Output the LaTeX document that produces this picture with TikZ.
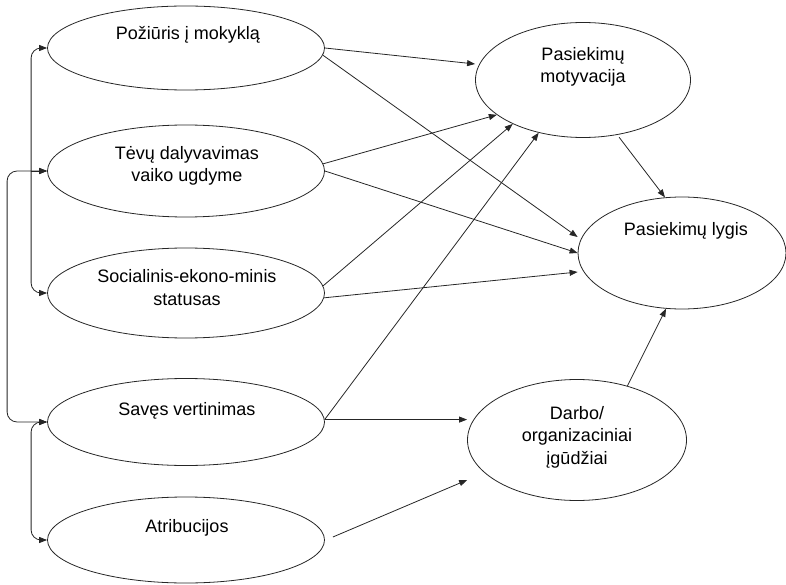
\documentclass[tikz,border=0pt]{standalone}
\usepackage{fontspec}
\setmainfont{Liberation Sans}
\usetikzlibrary{shapes.geometric,arrows.meta,calc}
\begin{document}
\begin{tikzpicture}[x=1pt,y=-1pt,
  oval/.style={draw=black!85, line width=0.8pt, ellipse, inner sep=0pt},
  lbl/.style={font=\fontsize{18}{22.5}\selectfont, align=center, anchor=base, inner sep=0pt},
  arr/.style={draw=black!85, line width=0.8pt, -{Triangle[length=8pt,width=6pt]}},
  barr/.style={draw=black!85, line width=0.8pt, {Triangle[length=8pt,width=6pt]}-{Triangle[length=8pt,width=6pt]}, rounded corners=10pt}]
\useasboundingbox (0,0) rectangle (786,585);
% left ellipses
\node[oval, minimum width=277pt, minimum height=84pt] (e1) at (186,48) {};
\node[oval, minimum width=277pt, minimum height=92pt] (e2) at (186,171) {};
\node[oval, minimum width=277pt, minimum height=90pt] (e3) at (186,293) {};
\node[oval, minimum width=277pt, minimum height=87pt] (e4) at (186,422) {};
\node[oval, minimum width=277pt, minimum height=86pt] (e5) at (186,540) {};
% right ellipses
\node[oval, minimum width=215pt, minimum height=115pt] (M) at (583,80) {};
\node[oval, minimum width=208pt, minimum height=112pt] (L) at (682,253) {};
\node[oval, minimum width=219pt, minimum height=121pt] (D) at (577,440) {};
% labels (base anchor = baseline of last line)
\node[lbl] (t1) at ($(e1.center)+(2,-8)$) {Požiūris į mokyklą};
\node[lbl] (t2) at ($(e2.center)+(1,11)$) {Tėvų dalyvavimas\\vaiko ugdyme};
\node[lbl] (t3) at ($(e3.center)+(1,12)$) {Socialinis-ekono-minis\\statusas};
\node[lbl] (t4) at ($(e4.center)+(1,-7)$) {Savęs vertinimas};
\node[lbl] (t5) at ($(e5.center)+(1,-8)$) {Atribucijos};
\node[lbl] (tM) at ($(M.center)+(0,3)$) {Pasiekimų\\motyvacija};
\node[lbl] (tL) at ($(L.center)+(4,-18)$) {Pasiekimų lygis};
\node[lbl] (tD) at ($(D.center)+(0,24)$) {Darbo/\\organizaciniai\\įgūdžiai};
% left brackets
\coordinate (ba) at ($(e1.west)+(-16,0)$);
\draw[barr] (e1.west) -- (ba) |- (e3.west);
\draw[arr] (ba |- e2.west) -- (e2.west);
\draw[barr] (e2.west) -- ++(-40,0) |- (e4.west);
\draw[barr] (e4.west) -- ++(-16,0) |- (e5.west);
% causal arrows
\draw[arr] (e1.east) -- ($(M.west)+(0,-16)$);
\draw[arr] (e1.-3) -- ($(L.west)+(0,-16)$);
\draw[arr] (e2.3) -- (M.202);
\draw[arr] (e2.east) -- (L.west);
\draw[arr] (e3.3) -- (M.212);
\draw[arr] (e3.-2) -- ($(L.west)+(0,19)$);
\draw[arr] (e4.1) -- (M.230);
\draw[arr] (e4.1) -- (e4.1 -| D.west);
\draw[arr] ($(e5.east)+(8,-3)$) -- ($(D.west)+(0,40)$);
\draw[arr] (D.47) -- (L.254);
\draw[arr, shorten <=3pt] (M.-58) -- (L.107);
\end{tikzpicture}
\end{document}
